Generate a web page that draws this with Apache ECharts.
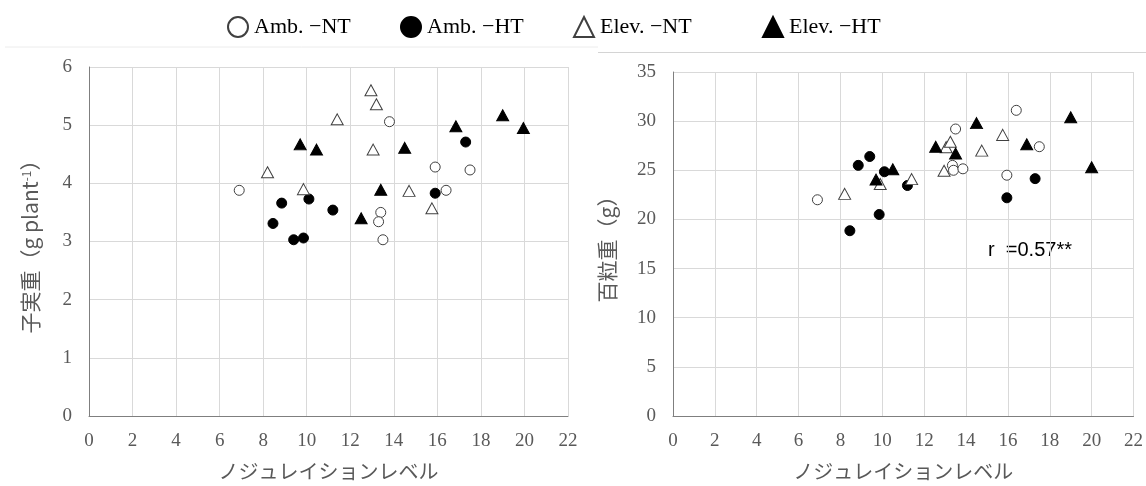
<!DOCTYPE html>
<html>
<head>
<meta charset="utf-8">
<script src="https://cdn.jsdelivr.net/npm/echarts@6/dist/echarts.min.js"></script>
<style>html,body{margin:0;padding:0;background:#fff}#c{width:1146px;height:486px}</style>
</head>
<body>
<div id="c"></div>
<script>
// ---- data ----
const seriesNames = ['Amb. −NT', 'Amb. −HT', 'Elev. −NT', 'Elev. −HT'];
const xTicks = [0, 2, 4, 6, 8, 10, 12, 14, 16, 18, 20, 22];
const leftYTicks = [0, 1, 2, 3, 4, 5, 6];
const rightYTicks = [0, 5, 10, 15, 20, 25, 30, 35];

// left chart: 子実重 (g plant-1)
const leftAmbNT = [[6.9,3.88],[13.8,5.06],[15.9,4.28],[17.5,4.23],[16.4,3.88],[13.4,3.50],[13.3,3.34],[13.5,3.03]];
const leftAmbHT = [[8.85,3.66],[8.45,3.31],[10.1,3.73],[9.4,3.03],[9.85,3.06],[11.2,3.54],[17.3,4.71],[15.9,3.83]];
const leftElevNT = [[12.95,5.60],[13.2,5.36],[11.4,5.10],[13.05,4.58],[8.2,4.19],[9.85,3.90],[14.7,3.87],[15.75,3.57]];
const leftElevHT = [[9.7,4.67],[10.45,4.58],[14.5,4.61],[13.4,3.89],[12.5,3.40],[16.85,4.98],[19.0,5.17],[19.95,4.95]];

// right chart: 百粒重 (g)
const rightAmbNT = [[6.9,22.0],[13.5,29.2],[16.4,31.1],[17.5,27.4],[15.95,24.5],[13.35,25.5],[13.4,25.0],[13.85,25.15]];
const rightAmbHT = [[9.4,26.4],[8.85,25.5],[10.1,24.85],[11.2,23.45],[9.85,20.5],[8.45,18.85],[17.3,24.15],[15.95,22.2]];
const rightElevNT = [[8.2,22.6],[9.9,23.6],[11.4,24.1],[12.95,24.95],[13.05,27.35],[13.25,27.9],[14.75,27.0],[15.75,28.6]];
const rightElevHT = [[9.7,24.05],[10.5,25.1],[12.55,27.4],[13.5,26.7],[14.5,29.8],[16.9,27.65],[19.0,30.4],[20.0,25.3]];

const rText = 'r  =0.57**';

// ---- styles ----
const serif = '"Liberation Serif", serif';
const jp = '"Noto Sans CJK JP"';
const txt = '#595959';
const styles = [
  {symbol: 'circle', symbolSize: 10, itemStyle: {color: '#ffffff', borderColor: '#404040', borderWidth: 1, opacity: 1}},
  {symbol: 'circle', symbolSize: 10, itemStyle: {color: '#000000', borderColor: '#000000', borderWidth: 1, opacity: 1}},
  {symbol: 'triangle', symbolSize: [12, 11], itemStyle: {color: '#ffffff', borderColor: '#404040', borderWidth: 1, opacity: 1}},
  {symbol: 'triangle', symbolSize: [12, 11], itemStyle: {color: '#000000', borderColor: '#000000', borderWidth: 1, opacity: 1}}
];
const legendLeft = [227, 400, 573, 762];

function xAxis(gi) {
  return {
    gridIndex: gi, type: 'value', min: 0, max: 22, interval: 2,
    axisLine: {show: true, lineStyle: {color: '#7f7f7f', width: 1}},
    axisTick: {show: false},
    splitLine: {show: true, lineStyle: {color: '#d9d9d9', width: 1}},
    axisLabel: {color: txt, fontFamily: serif, fontSize: 19, margin: 16,
      formatter: v => xTicks.includes(v) ? String(v) : ''},
    name: 'ノジュレイションレベル', nameLocation: 'middle', nameGap: 45,
    nameTextStyle: {color: txt, fontFamily: jp, fontSize: 20}
  };
}
function yAxis(gi, max, interval, ticks, name, gap, rich) {
  return {
    gridIndex: gi, type: 'value', min: 0, max: max, interval: interval,
    axisLine: {show: true, lineStyle: {color: '#7f7f7f', width: 1}},
    axisTick: {show: false},
    splitLine: {show: true, lineStyle: {color: '#d9d9d9', width: 1}},
    axisLabel: {color: txt, fontFamily: serif, fontSize: 19, margin: 17,
      formatter: v => ticks.includes(v) ? String(v) : ''},
    name: name, nameLocation: 'middle', nameGap: gap, nameRotate: 90,
    nameTextStyle: Object.assign({color: txt, fontFamily: jp, fontSize: 21}, rich ? {rich: rich} : {})
  };
}

const leftData = [leftAmbNT, leftAmbHT, leftElevNT, leftElevHT];
const rightData = [rightAmbNT, rightAmbHT, rightElevNT, rightElevHT];
const series = [];
[leftData, rightData].forEach((set, gi) => {
  set.forEach((d, i) => {
    series.push(Object.assign({
      type: 'scatter', name: seriesNames[i], xAxisIndex: gi, yAxisIndex: gi,
      data: d, z: 3 + i, emphasis: {disabled: true}
    }, JSON.parse(JSON.stringify(styles[i]))));
  });
});

const legends = seriesNames.map((n, i) => ({
  data: [n], top: 16, left: legendLeft[i], itemWidth: 20, itemHeight: 20, itemGap: 0,
  selectedMode: false,
  textStyle: {color: '#000', fontFamily: serif, fontSize: 22, padding: [0, 0, 0, 1]}, padding: 0
}));

const chart = echarts.init(document.getElementById('c'), null, {renderer: 'canvas'});
chart.setOption({
  backgroundColor: '#ffffff',
  animation: false,
  legend: legends,
  grid: [
    {left: 89, top: 67, width: 479, height: 352},
    {left: 673, top: 72, width: 462, height: 348}
  ],
  xAxis: [xAxis(0), xAxis(1)],
  yAxis: [
    yAxis(0, 6, 1, leftYTicks, '子実重（g plant{sup|-1}）', 48, {sup: {fontSize: 12, verticalAlign: 'top', color: txt, fontFamily: jp, padding: [0, 0, 9, 0]}}),
    yAxis(1, 35, 5, rightYTicks, '百粒重（g）', 55)
  ],
  graphic: [
    {type: 'line', shape: {x1: 5, y1: 47, x2: 598, y2: 47}, style: {stroke: '#ececec', lineWidth: 1}},
    {type: 'line', shape: {x1: 598, y1: 52.5, x2: 1146, y2: 52.5}, style: {stroke: '#d4d4d4', lineWidth: 1}},
    {type: 'text', left: 988, top: 240, style: {text: rText, fill: '#000', font: '20px "Liberation Sans"'}}
  ],
  series: series
});
</script>
</body>
</html>
